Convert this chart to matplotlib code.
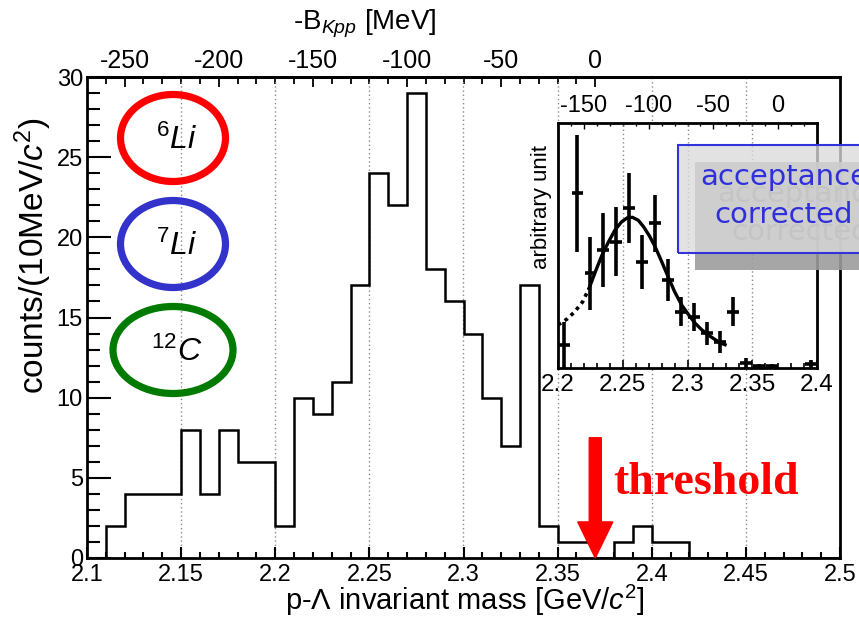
import matplotlib
matplotlib.use("Agg")
import matplotlib.pyplot as plt
import numpy as np
from matplotlib.patches import Ellipse, Rectangle
from matplotlib.ticker import FixedLocator, MultipleLocator, FuncFormatter

plt.rcParams["font.family"] = ["Liberation Sans", "DejaVu Sans"]
plt.rcParams["mathtext.fontset"] = "custom"
plt.rcParams["mathtext.rm"] = "Liberation Sans"
plt.rcParams["mathtext.it"] = "Liberation Sans:italic"
plt.rcParams["axes.unicode_minus"] = False

# =========================
# data
# =========================
bin_start = 2.10          # GeV/c^2
bin_width = 0.01
counts = [0, 2, 4, 4, 4, 8, 4, 8, 6, 6,
          2, 10, 9, 11, 17, 24, 22, 29, 18, 16,
          14, 10, 7, 17, 2, 1, 1, 0, 1, 2,
          1, 1, 0, 0, 0, 0, 0, 0, 0, 0]
threshold = 2.370         # K + p + p mass

# inset : acceptance corrected spectrum (arbitrary unit)
acc_x = [2.205, 2.215, 2.225, 2.235, 2.245, 2.255, 2.265, 2.275, 2.285,
         2.295, 2.305, 2.315, 2.325, 2.335, 2.345, 2.355, 2.365, 2.395]
acc_y = [9.4, 71.3, 38.6, 48.2, 51.6, 65.2, 43.4, 59.0, 35.9,
         23.0, 20.9, 14.1, 10.7, 23.0, 2.2, 0.8, 0.8, 1.6]
acc_err = [9.5, 24.0, 15.0, 15.0, 14.0, 14.3, 11.0, 11.5, 8.5,
           6.0, 5.8, 4.8, 4.4, 6.0, 2.0, 0.8, 0.8, 1.5]

fit_dot_x = [2.200, 2.207, 2.213, 2.219, 2.224]
fit_dot_y = [17.6, 20.0, 23.0, 27.0, 32.5]
fit_x = [2.224, 2.229, 2.234, 2.239, 2.244, 2.249, 2.2535, 2.2575, 2.262,
         2.266, 2.2705, 2.275, 2.280, 2.285, 2.290, 2.2955, 2.301, 2.306,
         2.311, 2.316, 2.321, 2.326, 2.329]
fit_y = [32.5, 39.5, 46.1, 51.5, 56.3, 59.6, 61.3, 61.5, 60.3,
         57.7, 54.0, 49.5, 43.5, 37.3, 31.2, 25.7, 21.6, 18.2,
         15.6, 13.5, 11.7, 10.1, 9.5]

targets = ["$^{6}\\mathit{Li}$", "$^{7}\\mathit{Li}$", "$^{12}\\mathit{C}$"]
target_colors = ["#ff0000", "#3333cc", "#007a00"]

edges = bin_start + bin_width * np.arange(len(counts) + 1)

# =========================
# plot
# =========================
fig = plt.figure(figsize=(8.59, 6.22), dpi=100)
ax = fig.add_axes([87 / 859, 1 - 558 / 622, 753 / 859, 481 / 622])

ax.stairs(counts, edges, color="black", linewidth=1.8, baseline=0, zorder=3)
ax.set_xlim(2.1, 2.5)
ax.set_ylim(0, 30)

ax.xaxis.set_major_locator(MultipleLocator(0.05))
ax.xaxis.set_minor_locator(MultipleLocator(0.01))
ax.yaxis.set_major_locator(MultipleLocator(5))
ax.yaxis.set_minor_locator(MultipleLocator(1))
ax.xaxis.set_major_formatter(FuncFormatter(lambda v, p: f"{v:g}"))
ax.tick_params(axis="both", which="both", direction="in", labelsize=17,
               width=1.5, top=False, right=False)
ax.tick_params(axis="x", which="major", length=8, pad=4)
ax.tick_params(axis="x", which="minor", length=4)
ax.tick_params(axis="y", which="major", length=17, pad=3)
ax.tick_params(axis="y", which="minor", length=9)
for s in ax.spines.values():
    s.set_linewidth(2)

for g in [2.15, 2.2, 2.25, 2.3, 2.35, 2.4, 2.45]:
    ax.axvline(g, color="#8a8a8a", linewidth=1.0, linestyle=(0, (1, 2)), zorder=1)

sec = ax.secondary_xaxis("top", functions=(lambda m: (m - threshold) * 1000,
                                           lambda b: b / 1000 + threshold))
sec.xaxis.set_major_locator(FixedLocator([-250, -200, -150, -100, -50, 0]))
sec.xaxis.set_minor_locator(FixedLocator(list(range(-260, 0, 10))))
sec.xaxis.set_major_formatter(FuncFormatter(lambda v, p: f"{v:.0f}"))
sec.tick_params(axis="x", which="both", direction="in", labelsize=18, width=1.3, pad=3)
sec.tick_params(axis="x", which="major", length=7)
sec.tick_params(axis="x", which="minor", length=5)
sec.spines["top"].set_linewidth(2)

fig.text(365 / 859, 1 - 24 / 622, "-B$_{\\mathit{Kpp}}$ [MeV]", fontsize=20,
         ha="center", va="center")
fig.text(465 / 859, 1 - 600 / 622, "p-Λ invariant mass [GeV/$\\mathit{c}^{2}$]",
         fontsize=21, ha="center", va="center")
fig.text(33 / 859, 1 - 256 / 622, "counts/(10MeV/$\\mathit{c}^{2}$)", fontsize=24,
         rotation=90, ha="center", va="center")

# threshold arrow
ax.arrow(threshold, 7.5, 0, -7.5, width=0.0064, head_width=0.0186, head_length=2.25,
         length_includes_head=True, color="red", zorder=5, clip_on=False)
ax.text(2.3795, 4.0, "threshold", color="red", fontsize=33, fontweight="bold",
        family=["Liberation Serif", "DejaVu Serif"], ha="left", va="baseline", zorder=5)

# target ellipses
ell_cy = [138, 244, 350]
ell_w = [105, 105, 120]
for lab, col, cy, w in zip(targets, target_colors, ell_cy, ell_w):
    e = Ellipse((173 / 859, 1 - cy / 622), w / 859, 87 / 622, transform=fig.transFigure,
                fill=False, edgecolor=col, linewidth=5.2, zorder=6)
    fig.add_artist(e)
    fig.text(177 / 859, 1 - (cy + 2) / 622, lab, fontsize=23, ha="center", va="center")

# inset
axi = fig.add_axes([558 / 859, 1 - 368 / 622, 259 / 859, 245 / 622], facecolor="white")
axi.set_zorder(4)
axi.set_xlim(2.2, 2.4)
axi.set_ylim(0, 100)
for g in [2.25, 2.3, 2.35]:
    axi.axvline(g, color="#8a8a8a", linewidth=1.0, linestyle=(0, (1, 2)), zorder=1)
axi.errorbar(acc_x, acc_y, xerr=0.0045, yerr=acc_err, fmt="none", ecolor="black",
             elinewidth=2.6, capsize=0, zorder=3)
axi.plot(fit_dot_x, fit_dot_y, color="black", linewidth=2.6, linestyle=(0, (1, 1.2)), zorder=3)
axi.plot(fit_x, fit_y, color="black", linewidth=2.4, zorder=3)
axi.xaxis.set_major_locator(MultipleLocator(0.05))
axi.xaxis.set_minor_locator(MultipleLocator(0.01))
axi.xaxis.set_major_formatter(FuncFormatter(lambda v, p: f"{v:g}"))
axi.set_yticks([])
axi.tick_params(axis="x", which="both", direction="in", labelsize=17.5, width=1.2, pad=4)
axi.tick_params(axis="x", which="major", length=6)
axi.tick_params(axis="x", which="minor", length=3.5)
for s in axi.spines.values():
    s.set_linewidth(2)
seci = axi.secondary_xaxis("top", functions=(lambda m: (m - threshold) * 1000,
                                             lambda b: b / 1000 + threshold))
seci.xaxis.set_major_locator(FixedLocator([-150, -100, -50, 0]))
seci.xaxis.set_minor_locator(FixedLocator(list(range(-160, 30, 10))))
seci.xaxis.set_major_formatter(FuncFormatter(lambda v, p: f"{v:.0f}"))
seci.tick_params(axis="x", which="both", direction="in", labelsize=17, width=1.0, pad=4)
seci.tick_params(axis="x", which="major", length=4)
seci.tick_params(axis="x", which="minor", length=2.5)
fig.text(542 / 859, 1 - 207 / 622, "arbitrary unit", fontsize=16, rotation=90,
         ha="center", va="center")

# "acceptance corrected" box with drop shadow
dx, dy = 17 / 859, -17 / 622
bx, by, bw, bh = 678 / 859, 1 - 253 / 622, 0.3, 108 / 622
fig.add_artist(Rectangle((bx + dx, by + dy), bw, bh, transform=fig.transFigure,
                         facecolor="#9c9c9c", edgecolor="none", alpha=0.9, zorder=10))
lines = ["acceptance", "corrected"]
line_y = [1 - 177 / 622, 1 - 215 / 622]
for t, yy in zip(lines, line_y):
    fig.text(784 / 859 + dx, yy + dy, t, fontsize=21, color="#7a7a7a", ha="center",
             va="center", family="DejaVu Sans", zorder=11)
fig.add_artist(Rectangle((bx, by), bw, bh, transform=fig.transFigure,
                         facecolor="#dadada", edgecolor="none", alpha=0.78, zorder=12))
fig.add_artist(Rectangle((bx, by), bw, bh, transform=fig.transFigure,
                         facecolor="none", edgecolor="#3333dd", linewidth=1.5, zorder=14))
for t, yy in zip(lines, line_y):
    fig.text(784 / 859, yy, t, fontsize=21, color="#2f2fdc", ha="center",
             va="center", family="DejaVu Sans", zorder=13)

fig.savefig("out.png", dpi=100)
